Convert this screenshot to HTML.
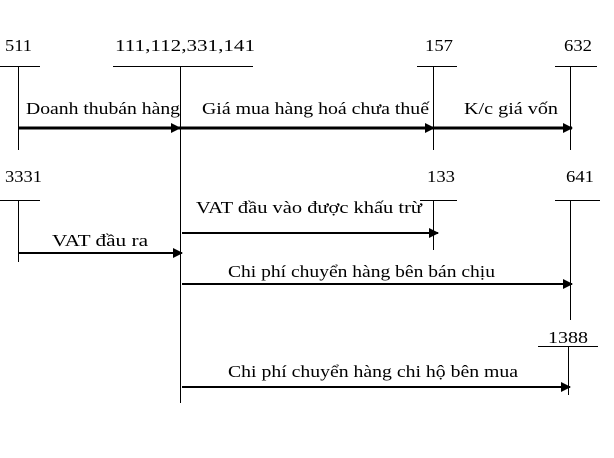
<!DOCTYPE html>
<html><head><meta charset="utf-8"><style>
html,body{margin:0;padding:0;background:#fff;}
svg{display:block;}
text{font-family:"Liberation Serif","DejaVu Serif",serif;font-size:17px;fill:#000;}
</style></head><body>
<svg width="614" height="458" viewBox="0 0 614 458" xmlns="http://www.w3.org/2000/svg">
<defs>
<marker id="a" markerWidth="10" markerHeight="10" refX="9" refY="5" orient="auto" markerUnits="userSpaceOnUse">
<path d="M0,0 L10,5 L0,10 Z" fill="#000"/></marker>
</defs>
<g stroke="#000" stroke-width="1" fill="none" shape-rendering="crispEdges">
<line x1="0" y1="66.5" x2="40" y2="66.5"/><line x1="18.5" y1="66" x2="18.5" y2="150"/>
<line x1="113" y1="66.5" x2="253" y2="66.5"/><line x1="180.5" y1="66" x2="180.5" y2="403"/>
<line x1="417" y1="66.5" x2="457" y2="66.5"/><line x1="433.5" y1="66" x2="433.5" y2="150"/>
<line x1="555" y1="66.5" x2="597" y2="66.5"/><line x1="570.5" y1="66" x2="570.5" y2="150"/>
<line x1="0" y1="200.5" x2="40" y2="200.5"/><line x1="18.5" y1="200" x2="18.5" y2="262"/>
<line x1="420" y1="200.5" x2="457" y2="200.5"/><line x1="433.5" y1="200" x2="433.5" y2="250"/>
<line x1="555" y1="200.5" x2="600" y2="200.5"/><line x1="570.5" y1="200" x2="570.5" y2="320"/>
<line x1="538" y1="346.5" x2="598" y2="346.5"/><line x1="568.5" y1="346" x2="568.5" y2="395"/>
</g>
<g stroke="#000" stroke-width="3">
<line x1="19" y1="128" x2="180" y2="128" marker-end="url(#a)"/>
<line x1="181" y1="128" x2="434" y2="128" marker-end="url(#a)"/>
<line x1="434" y1="128" x2="572" y2="128" marker-end="url(#a)"/>
</g>
<g stroke="#000" stroke-width="2">
<line x1="182" y1="233" x2="438" y2="233" marker-end="url(#a)"/>
<line x1="19" y1="253" x2="182" y2="253" marker-end="url(#a)"/>
<line x1="182" y1="284" x2="572" y2="284" marker-end="url(#a)"/>
<line x1="182" y1="387" x2="570" y2="387" marker-end="url(#a)"/>
</g>
<text x="5" y="51" textLength="27" lengthAdjust="spacingAndGlyphs">511</text>
<text x="115" y="51" textLength="140" lengthAdjust="spacingAndGlyphs">111,112,331,141</text>
<text x="425" y="51" textLength="28" lengthAdjust="spacingAndGlyphs">157</text>
<text x="564" y="51" textLength="28" lengthAdjust="spacingAndGlyphs">632</text>
<text x="26" y="114" textLength="154" lengthAdjust="spacingAndGlyphs">Doanh thubán hàng</text>
<text x="202" y="114" textLength="227" lengthAdjust="spacingAndGlyphs">Giá mua hàng hoá chưa thuế</text>
<text x="464" y="114" textLength="94" lengthAdjust="spacingAndGlyphs">K/c giá vốn</text>
<text x="5" y="182" textLength="37" lengthAdjust="spacingAndGlyphs">3331</text>
<text x="427" y="182" textLength="28" lengthAdjust="spacingAndGlyphs">133</text>
<text x="566" y="182" textLength="28" lengthAdjust="spacingAndGlyphs">641</text>
<text x="196" y="213" textLength="226" lengthAdjust="spacingAndGlyphs">VAT đầu vào được khấu trừ</text>
<text x="52" y="246" textLength="96" lengthAdjust="spacingAndGlyphs">VAT đầu ra</text>
<text x="228" y="277" textLength="267" lengthAdjust="spacingAndGlyphs">Chi phí chuyển hàng bên bán chịu</text>
<text x="548" y="343" textLength="40" lengthAdjust="spacingAndGlyphs">1388</text>
<text x="228" y="377" textLength="290" lengthAdjust="spacingAndGlyphs">Chi phí chuyển hàng chi hộ bên mua</text>
</svg>
</body></html>
